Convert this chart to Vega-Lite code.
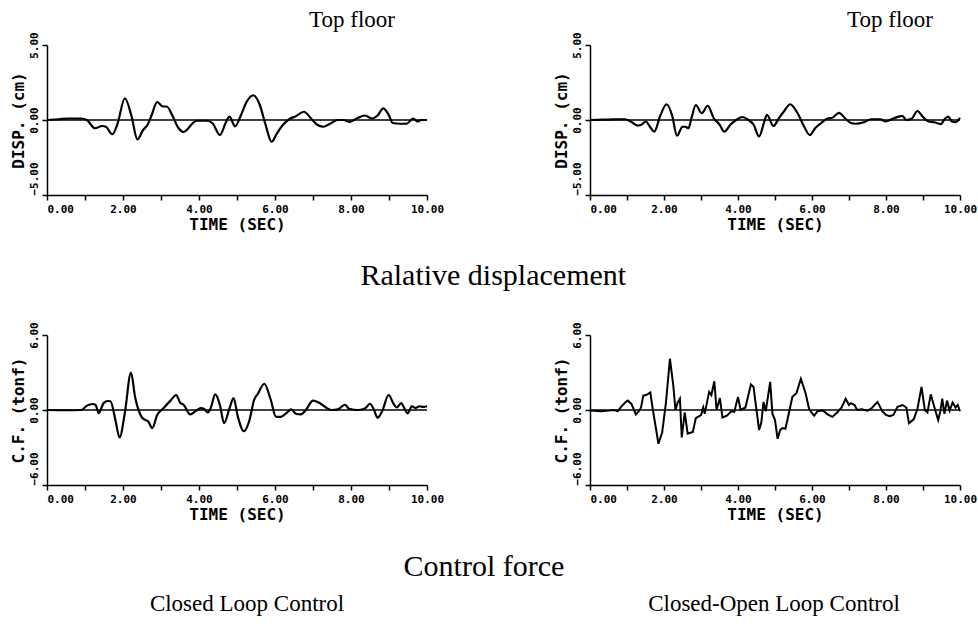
{
  "$schema": "https://vega.github.io/schema/vega-lite/v6.json",
  "background": "white",
  "padding": {"left": 10, "top": 8, "right": 0, "bottom": 0},
  "spacing": 30,
  "datasets": {
    "d1": [
      {"t":0.0,"v":0.0},{"t":0.3,"v":0.05},{"t":0.6,"v":0.1},{"t":0.9,"v":0.1},{"t":1.05,"v":0.0},{"t":1.26,"v":-0.55},{"t":1.45,"v":-0.4},{"t":1.55,"v":-0.45},{"t":1.72,"v":-0.95},{"t":1.85,"v":-0.3},{"t":2.05,"v":1.45},{"t":2.22,"v":0.3},{"t":2.38,"v":-1.3},{"t":2.52,"v":-0.7},{"t":2.65,"v":-0.3},{"t":2.75,"v":0.3},{"t":2.9,"v":1.2},{"t":3.05,"v":0.9},{"t":3.15,"v":0.9},{"t":3.3,"v":0.3},{"t":3.45,"v":-0.5},{"t":3.6,"v":-0.8},{"t":3.72,"v":-0.55},{"t":3.8,"v":-0.3},{"t":3.95,"v":-0.05},{"t":4.2,"v":-0.05},{"t":4.35,"v":-0.2},{"t":4.55,"v":-1.0},{"t":4.7,"v":-0.2},{"t":4.8,"v":0.22},{"t":4.95,"v":-0.42},{"t":5.1,"v":0.3},{"t":5.25,"v":1.2},{"t":5.43,"v":1.65},{"t":5.6,"v":1.0},{"t":5.75,"v":-0.3},{"t":5.91,"v":-1.45},{"t":6.05,"v":-0.9},{"t":6.2,"v":-0.35},{"t":6.4,"v":0.1},{"t":6.55,"v":0.25},{"t":6.76,"v":0.55},{"t":6.95,"v":0.1},{"t":7.1,"v":-0.3},{"t":7.27,"v":-0.45},{"t":7.45,"v":-0.25},{"t":7.65,"v":0.0},{"t":7.8,"v":0.0},{"t":7.97,"v":-0.12},{"t":8.15,"v":0.1},{"t":8.37,"v":0.3},{"t":8.55,"v":0.1},{"t":8.7,"v":0.3},{"t":8.85,"v":0.78},{"t":9.0,"v":0.3},{"t":9.1,"v":-0.2},{"t":9.3,"v":-0.25},{"t":9.46,"v":-0.25},{"t":9.64,"v":0.1},{"t":9.75,"v":-0.1},{"t":9.85,"v":0.0},{"t":10.0,"v":0.0}
    ],
    "d2": [
      {"t":0.0,"v":0.0},{"t":0.5,"v":0.03},{"t":0.95,"v":0.05},{"t":1.1,"v":-0.1},{"t":1.29,"v":-0.37},{"t":1.4,"v":-0.3},{"t":1.51,"v":-0.1},{"t":1.62,"v":-0.45},{"t":1.74,"v":-0.77},{"t":1.9,"v":0.3},{"t":2.07,"v":1.05},{"t":2.22,"v":0.3},{"t":2.35,"v":-1.05},{"t":2.5,"v":-0.45},{"t":2.58,"v":-0.45},{"t":2.66,"v":-0.55},{"t":2.75,"v":0.2},{"t":2.86,"v":1.0},{"t":3.02,"v":0.45},{"t":3.18,"v":0.95},{"t":3.35,"v":0.1},{"t":3.5,"v":-0.3},{"t":3.63,"v":-0.78},{"t":3.8,"v":-0.3},{"t":3.92,"v":-0.05},{"t":4.12,"v":0.2},{"t":4.28,"v":0.0},{"t":4.42,"v":-0.3},{"t":4.57,"v":-1.1},{"t":4.7,"v":-0.2},{"t":4.78,"v":0.35},{"t":4.96,"v":-0.4},{"t":5.1,"v":0.1},{"t":5.25,"v":0.6},{"t":5.41,"v":1.05},{"t":5.6,"v":0.5},{"t":5.78,"v":-0.4},{"t":5.94,"v":-1.0},{"t":6.1,"v":-0.5},{"t":6.25,"v":-0.2},{"t":6.42,"v":0.1},{"t":6.55,"v":0.15},{"t":6.73,"v":0.48},{"t":6.9,"v":0.1},{"t":7.05,"v":-0.2},{"t":7.18,"v":-0.25},{"t":7.4,"v":-0.15},{"t":7.6,"v":0.05},{"t":7.85,"v":0.05},{"t":7.99,"v":-0.1},{"t":8.2,"v":0.1},{"t":8.44,"v":0.27},{"t":8.55,"v":0.0},{"t":8.7,"v":0.1},{"t":8.85,"v":0.6},{"t":9.0,"v":0.2},{"t":9.15,"v":-0.1},{"t":9.3,"v":-0.15},{"t":9.48,"v":-0.27},{"t":9.6,"v":0.1},{"t":9.68,"v":0.22},{"t":9.78,"v":-0.1},{"t":9.88,"v":-0.15},{"t":10.0,"v":0.15}
    ],
    "d3": [
      {"t":0.0,"v":0.0},{"t":0.5,"v":-0.02},{"t":0.9,"v":0.0},{"t":1.05,"v":0.35},{"t":1.2,"v":0.48},{"t":1.28,"v":0.4},{"t":1.36,"v":-0.25},{"t":1.49,"v":0.55},{"t":1.6,"v":0.72},{"t":1.67,"v":0.7},{"t":1.8,"v":-0.8},{"t":1.91,"v":-2.2},{"t":2.05,"v":-0.2},{"t":2.21,"v":3.0},{"t":2.32,"v":1.0},{"t":2.42,"v":-0.1},{"t":2.5,"v":-0.6},{"t":2.59,"v":-0.8},{"t":2.66,"v":-0.9},{"t":2.77,"v":-1.45},{"t":2.9,"v":-0.4},{"t":3.05,"v":0.1},{"t":3.25,"v":0.75},{"t":3.4,"v":1.2},{"t":3.5,"v":0.6},{"t":3.6,"v":0.4},{"t":3.77,"v":-0.35},{"t":3.95,"v":0.0},{"t":4.05,"v":0.15},{"t":4.15,"v":0.05},{"t":4.23,"v":-0.2},{"t":4.3,"v":0.1},{"t":4.43,"v":1.25},{"t":4.55,"v":0.4},{"t":4.66,"v":-1.05},{"t":4.8,"v":0.1},{"t":4.91,"v":0.95},{"t":5.02,"v":-0.5},{"t":5.18,"v":-1.7},{"t":5.32,"v":-0.9},{"t":5.45,"v":0.8},{"t":5.55,"v":1.3},{"t":5.72,"v":2.1},{"t":5.88,"v":0.9},{"t":6.03,"v":-0.55},{"t":6.15,"v":-0.55},{"t":6.3,"v":-0.25},{"t":6.43,"v":0.05},{"t":6.55,"v":-0.3},{"t":6.68,"v":-0.35},{"t":6.8,"v":-0.05},{"t":7.0,"v":0.75},{"t":7.15,"v":0.6},{"t":7.25,"v":0.4},{"t":7.49,"v":0.0},{"t":7.65,"v":0.05},{"t":7.84,"v":0.42},{"t":7.95,"v":0.1},{"t":8.2,"v":0.0},{"t":8.38,"v":0.15},{"t":8.5,"v":0.5},{"t":8.6,"v":0.05},{"t":8.7,"v":-0.62},{"t":8.82,"v":-0.1},{"t":8.99,"v":1.2},{"t":9.12,"v":0.5},{"t":9.2,"v":0.2},{"t":9.32,"v":0.55},{"t":9.41,"v":0.1},{"t":9.49,"v":-0.28},{"t":9.6,"v":0.3},{"t":9.7,"v":0.15},{"t":9.8,"v":0.3},{"t":9.9,"v":0.25},{"t":10.0,"v":0.3}
    ],
    "d4": [
      {"t":0.0,"v":-0.05},{"t":0.3,"v":-0.1},{"t":0.5,"v":-0.05},{"t":0.65,"v":0.0},{"t":0.75,"v":-0.1},{"t":0.84,"v":0.25},{"t":0.95,"v":0.6},{"t":1.02,"v":0.75},{"t":1.12,"v":0.5},{"t":1.24,"v":-0.35},{"t":1.32,"v":-0.1},{"t":1.38,"v":0.2},{"t":1.44,"v":1.15},{"t":1.52,"v":1.2},{"t":1.63,"v":1.4},{"t":1.7,"v":0.0},{"t":1.85,"v":-2.7},{"t":1.95,"v":-1.8},{"t":2.05,"v":0.5},{"t":2.16,"v":4.1},{"t":2.25,"v":2.0},{"t":2.31,"v":0.0},{"t":2.37,"v":0.6},{"t":2.43,"v":0.9},{"t":2.48,"v":-2.2},{"t":2.56,"v":-0.2},{"t":2.64,"v":-1.9},{"t":2.78,"v":-1.75},{"t":2.86,"v":-0.65},{"t":3.0,"v":-0.4},{"t":3.06,"v":0.2},{"t":3.1,"v":-0.3},{"t":3.22,"v":1.45},{"t":3.28,"v":1.2},{"t":3.36,"v":2.3},{"t":3.42,"v":0.0},{"t":3.51,"v":0.95},{"t":3.58,"v":-0.6},{"t":3.7,"v":-0.45},{"t":3.82,"v":-0.1},{"t":3.9,"v":-0.15},{"t":4.0,"v":1.05},{"t":4.07,"v":0.0},{"t":4.2,"v":0.2},{"t":4.35,"v":2.05},{"t":4.42,"v":1.85},{"t":4.5,"v":0.0},{"t":4.57,"v":-1.6},{"t":4.63,"v":-1.0},{"t":4.69,"v":0.65},{"t":4.75,"v":-0.1},{"t":4.87,"v":2.25},{"t":4.93,"v":-0.3},{"t":5.0,"v":-0.8},{"t":5.07,"v":-2.3},{"t":5.14,"v":-1.6},{"t":5.2,"v":-1.45},{"t":5.28,"v":-1.5},{"t":5.35,"v":-0.6},{"t":5.47,"v":1.05},{"t":5.58,"v":1.35},{"t":5.7,"v":2.5},{"t":5.83,"v":1.3},{"t":5.92,"v":0.1},{"t":6.0,"v":-0.25},{"t":6.06,"v":-0.45},{"t":6.15,"v":-0.1},{"t":6.3,"v":-0.05},{"t":6.42,"v":-0.35},{"t":6.55,"v":-0.55},{"t":6.68,"v":-0.2},{"t":6.8,"v":0.2},{"t":6.91,"v":0.9},{"t":7.0,"v":0.4},{"t":7.05,"v":0.55},{"t":7.15,"v":0.4},{"t":7.22,"v":0.0},{"t":7.35,"v":0.05},{"t":7.5,"v":-0.05},{"t":7.6,"v":0.1},{"t":7.77,"v":0.65},{"t":7.9,"v":-0.1},{"t":8.0,"v":-0.4},{"t":8.1,"v":-0.5},{"t":8.2,"v":-0.4},{"t":8.31,"v":0.25},{"t":8.45,"v":0.4},{"t":8.55,"v":0.2},{"t":8.62,"v":-1.05},{"t":8.75,"v":-0.75},{"t":8.85,"v":0.1},{"t":8.96,"v":1.85},{"t":9.05,"v":0.0},{"t":9.12,"v":-0.2},{"t":9.21,"v":1.25},{"t":9.3,"v":0.3},{"t":9.41,"v":-0.8},{"t":9.47,"v":-0.1},{"t":9.52,"v":0.9},{"t":9.58,"v":-0.3},{"t":9.65,"v":0.75},{"t":9.72,"v":-0.05},{"t":9.8,"v":0.6},{"t":9.88,"v":0.2},{"t":9.94,"v":0.4},{"t":10.0,"v":-0.1}
    ]
  },
  "vconcat": [
    {
      "hconcat": [
        {
          "width": 380, "height": 150,
          "title": {"text": "Top floor", "anchor": "end", "frame": "group", "fontSize": 23, "offset": 0, "dx": -32},
          "layer": [
            {"data": {"values": [{}]}, "mark": {"type": "rule", "color": "black", "strokeWidth": 1.5}, "encoding": {"y": {"datum": 0, "type": "quantitative"}}},
            {"data": {"name": "d1"}, "mark": {"type": "line", "color": "black", "strokeWidth": 2.2, "interpolate": "monotone"},
             "encoding": {
               "x": {"field": "t", "type": "quantitative", "scale": {"domain": [0, 10], "nice": false, "zero": false},
                     "axis": {"title": "TIME (SEC)", "values": [0,1,2,3,4,5,6,7,8,9,10], "labelExpr": "datum.value % 2 == 0 ? format(datum.value, '.2f') : ''", "labelAlign": {"condition": {"test": "datum.value == 0", "value": "left"}, "value": "center"}}},
               "y": {"field": "v", "type": "quantitative", "scale": {"domain": [-5, 5], "nice": false},
                     "axis": {"title": "DISP. (cm)", "values": [-5,-2.5,0,2.5,5], "labelExpr": "abs(datum.value) == 2.5 ? '' : format(datum.value, '.2f')", "labelAlign": {"condition": {"test": "datum.value < -4", "value": "left"}, "value": "center"}}}
             }}
          ]
        },
        {
          "width": 370, "height": 150,
          "title": {"text": "Top floor", "anchor": "end", "frame": "group", "fontSize": 23, "offset": 0, "dx": -27},
          "layer": [
            {"data": {"values": [{}]}, "mark": {"type": "rule", "color": "black", "strokeWidth": 1.5}, "encoding": {"y": {"datum": 0, "type": "quantitative"}}},
            {"data": {"name": "d2"}, "mark": {"type": "line", "color": "black", "strokeWidth": 2.2, "interpolate": "monotone"},
             "encoding": {
               "x": {"field": "t", "type": "quantitative", "scale": {"domain": [0, 10], "nice": false, "zero": false},
                     "axis": {"title": "TIME (SEC)", "values": [0,1,2,3,4,5,6,7,8,9,10], "labelExpr": "datum.value % 2 == 0 ? format(datum.value, '.2f') : ''", "labelAlign": {"condition": {"test": "datum.value == 0", "value": "left"}, "value": "center"}}},
               "y": {"field": "v", "type": "quantitative", "scale": {"domain": [-5, 5], "nice": false},
                     "axis": {"title": "DISP. (cm)", "values": [-5,-2.5,0,2.5,5], "labelExpr": "abs(datum.value) == 2.5 ? '' : format(datum.value, '.2f')", "labelAlign": {"condition": {"test": "datum.value < -4", "value": "left"}, "value": "center"}}}
             }}
          ]
        }
      ],
      "spacing": 109,
      "title": {"text": "Ralative displacement", "orient": "bottom", "anchor": "middle", "fontSize": 30, "offset": 29}
    },
    {
      "hconcat": [
        {
          "width": 380, "height": 150,
          "layer": [
            {"data": {"values": [{}]}, "mark": {"type": "rule", "color": "black", "strokeWidth": 1.5}, "encoding": {"y": {"datum": 0, "type": "quantitative"}}},
            {"data": {"name": "d3"}, "mark": {"type": "line", "color": "black", "strokeWidth": 2.2, "interpolate": "monotone"},
             "encoding": {
               "x": {"field": "t", "type": "quantitative", "scale": {"domain": [0, 10], "nice": false, "zero": false},
                     "axis": {"title": "TIME (SEC)", "values": [0,1,2,3,4,5,6,7,8,9,10], "labelExpr": "datum.value % 2 == 0 ? format(datum.value, '.2f') : ''", "labelAlign": {"condition": {"test": "datum.value == 0", "value": "left"}, "value": "center"}}},
               "y": {"field": "v", "type": "quantitative", "scale": {"domain": [-6, 6], "nice": false},
                     "axis": {"title": "C.F. (tonf)", "values": [-6,-3,0,3,6], "labelExpr": "abs(datum.value) == 3 ? '' : format(datum.value, '.2f')", "labelAlign": {"condition": {"test": "datum.value < -4", "value": "left"}, "value": "center"}}}
             }}
          ]
        },
        {
          "width": 370, "height": 150,
          "layer": [
            {"data": {"values": [{}]}, "mark": {"type": "rule", "color": "black", "strokeWidth": 1.5}, "encoding": {"y": {"datum": 0, "type": "quantitative"}}},
            {"data": {"name": "d4"}, "mark": {"type": "line", "color": "black", "strokeWidth": 2},
             "encoding": {
               "x": {"field": "t", "type": "quantitative", "scale": {"domain": [0, 10], "nice": false, "zero": false},
                     "axis": {"title": "TIME (SEC)", "values": [0,1,2,3,4,5,6,7,8,9,10], "labelExpr": "datum.value % 2 == 0 ? format(datum.value, '.2f') : ''", "labelAlign": {"condition": {"test": "datum.value == 0", "value": "left"}, "value": "center"}}},
               "y": {"field": "v", "type": "quantitative", "scale": {"domain": [-6, 6], "nice": false},
                     "axis": {"title": "C.F. (tonf)", "values": [-6,-3,0,3,6], "labelExpr": "abs(datum.value) == 3 ? '' : format(datum.value, '.2f')", "labelAlign": {"condition": {"test": "datum.value < -4", "value": "left"}, "value": "center"}}}
             }}
          ]
        }
      ],
      "spacing": 109
    },
    {
      "hconcat": [
        {"width": 400, "height": 20, "data": {"values": [{"label": "Closed Loop Control"}]},
         "mark": {"type": "text", "font": "Liberation Serif", "fontSize": 23, "color": "black"},
         "encoding": {"text": {"field": "label", "type": "nominal"}}},
        {"width": 294, "height": 20, "data": {"values": [{"label": "Closed-Open Loop Control"}]},
         "mark": {"type": "text", "font": "Liberation Serif", "fontSize": 23, "color": "black"},
         "encoding": {"text": {"field": "label", "type": "nominal"}}}
      ],
      "spacing": 180,
      "title": {"text": "Control force", "anchor": "middle", "fontSize": 30, "offset": 11}
    }
  ],
  "config": {
    "view": {"stroke": null},
    "title": {"font": "Liberation Serif", "fontWeight": "normal", "color": "black"},
    "axis": {
      "grid": false,
      "domainColor": "black", "domainWidth": 1.5,
      "tickColor": "black", "tickSize": 5, "tickWidth": 1.5,
      "labelFont": "DejaVu Sans Mono", "labelFontWeight": "bold", "labelFontSize": 11, "labelColor": "black", "labelFlush": false, "labelPadding": 3,
      "titleFont": "DejaVu Sans Mono", "titleFontWeight": "bold", "titleFontSize": 16, "titleColor": "black", "titlePadding": 2
    },
    "axisY": {"labelAngle": -90, "labelBaseline": "bottom"}
  }
}
